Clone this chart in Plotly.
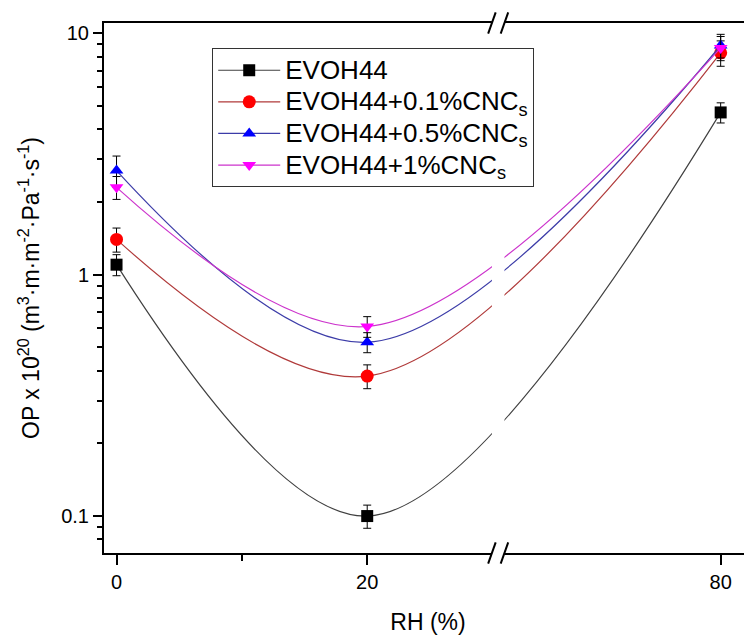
import math
import plotly.graph_objects as go

# ---- data ----
RH = [0, 20, 80]
RH_TICKS = [0, 20, 80]
RH_MINOR = [10]

EVOH44 = [1.1, 0.1, 4.7]
EVOH44_err = [0.11, 0.011, 0.45]
CNC01 = [1.4, 0.38, 8.3]
CNC01_err = [0.16, 0.043, 1.0]
CNC05 = [2.7, 0.525, 8.9]
CNC05_err = [0.4, 0.05, 1.0]
CNC1 = [2.3, 0.61, 8.7]
CNC1_err = [0.25, 0.06, 1.0]

NAMES = ["EVOH44", "EVOH44+0.1%CNC<sub>s</sub>", "EVOH44+0.5%CNC<sub>s</sub>",
         "EVOH44+1%CNC<sub>s</sub>"]

# ---- broken x axis: values beyond the break are shifted left ----
BREAK_AT = 30.45
BREAK_SKIP = 31.8


def to_axis(v):
    return v if v <= BREAK_AT else v - BREAK_SKIP


FONT = "Liberation Sans, Arial, sans-serif"

series = [
    (EVOH44, EVOH44_err, "square", "#000000", "#404040", 12),
    (CNC01, CNC01_err, "circle", "#ff0000", "#b03a3a", 13),
    (CNC05, CNC05_err, "triangle-up", "#0000ff", "#3c3ca8", 12),
    (CNC1, CNC1_err, "triangle-down", "#ff00ff", "#cc33cc", 12),
]

fig = go.Figure()
xs = [to_axis(v) for v in RH]
for name, (vals, errs, sym, mcol, lcol, msz) in zip(NAMES, series):
    fig.add_trace(go.Scatter(
        x=xs, y=vals, name='<span style="font-size:26px">' + name + '</span>',
        mode="lines+markers",
        line=dict(color=lcol, width=1.2, shape="spline", smoothing=1.0),
        marker=dict(symbol=sym, size=msz, color=mcol, line=dict(width=0)),
        error_y=dict(type="data", array=errs, visible=True, color="#000000",
                     thickness=1, width=4),
    ))

# break marks (gap + slashes) on bottom and top axes
shapes = [dict(type="rect", xref="x", yref="paper", x0=29.95, x1=30.95,
               y0=-0.012, y1=1.012, fillcolor="white", line=dict(width=0),
               layer="above")]
for yc in (0.0, 1.0):
    for xc in (29.95, 30.95):
        shapes.append(dict(type="line", xref="x", yref="paper",
                           x0=xc - 0.3, x1=xc + 0.3, y0=yc - 0.02, y1=yc + 0.02,
                           line=dict(color="black", width=2), layer="above"))

# the page body adds an 8px margin, so the figure is 8px smaller each way
fig.update_layout(
    width=744, height=629,
    margin=dict(l=96, r=0, t=15, b=84),
    paper_bgcolor="white", plot_bgcolor="white",
    font=dict(family=FONT, color="black", size=20),
    showlegend=True,
    legend=dict(x=0.167, y=0.952, xanchor="left", yanchor="top",
                bgcolor="white", bordercolor="#333333", borderwidth=1,
                font=dict(size=22, family=FONT), itemwidth=62,
                tracegroupgap=0),
    shapes=shapes,
)

fig.update_xaxes(
    range=[-1.0, 50.7], automargin=False,
    tickmode="array", tickvals=[to_axis(v) for v in RH_TICKS],
    ticktext=[str(v) for v in RH_TICKS],
    ticks="outside", ticklen=10, tickwidth=2, tickcolor="black",
    minor=dict(tickmode="array", tickvals=[to_axis(v) for v in RH_MINOR],
               ticks="outside", ticklen=6, tickwidth=2, tickcolor="black"),
    showline=True, linewidth=2, linecolor="black", mirror=True,
    showgrid=False, zeroline=False,
    tickfont=dict(size=20),
    title=dict(text="RH (%)", font=dict(size=23), standoff=22),
)

fig.update_yaxes(
    type="log", automargin=False,
    range=[math.log10(0.0703), math.log10(11.03)],
    tickmode="array", tickvals=[0.1, 1, 10], ticktext=["0.1", "1", "10"],
    ticks="outside", ticklen=9, tickwidth=2, tickcolor="black",
    minor=dict(dtick="D1", ticks="outside", ticklen=5, tickwidth=2,
               tickcolor="black", showgrid=False),
    showline=True, linewidth=2, linecolor="black", mirror=False,
    showgrid=False, zeroline=False,
    tickfont=dict(size=20),
    title=dict(text="OP x 10<sup>20</sup> (m<sup>3</sup>·m·m<sup>-2</sup>·Pa<sup>-1</sup>·s<sup>-1</sup>)",
               font=dict(size=23), standoff=15),
)

fig.write_html("out.html")
